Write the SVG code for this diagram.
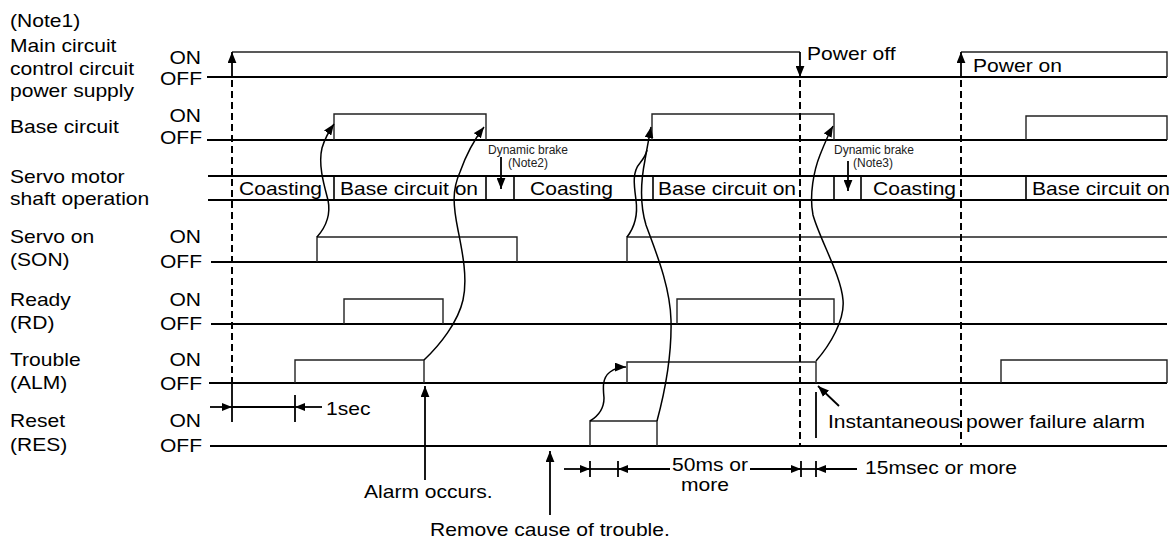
<svg xmlns="http://www.w3.org/2000/svg" width="1174" height="541" viewBox="0 0 1174 541">
<style>
.t{font-family:"Liberation Sans",Arial,sans-serif;font-size:18px;fill:#000}
.e{text-anchor:end}
.s{font-family:"Liberation Sans",Arial,sans-serif;font-size:12px;fill:#222}
.off{stroke:#000;stroke-width:2;fill:none}
.hi{stroke:#222;stroke-width:1.4;fill:none}
.dv{stroke:#000;stroke-width:1.6;fill:none}
.dash{stroke:#000;stroke-width:2;stroke-dasharray:7 4;fill:none}
.cv{stroke:#000;stroke-width:1.5;fill:none}
.ln{stroke:#000;stroke-width:1.8;fill:none}
</style>
<defs>
<marker id="ah" viewBox="0 0 10 8" refX="10" refY="4" markerWidth="11" markerHeight="9" markerUnits="userSpaceOnUse" orient="auto"><path d="M0,0 L10,4 L0,8 z" fill="#000"/></marker>
<marker id="ad" viewBox="0 0 10 8" refX="10" refY="4" markerWidth="10" markerHeight="8" markerUnits="userSpaceOnUse" orient="auto"><path d="M0,0 L10,4 L0,8 z" fill="#000"/></marker>
</defs>
<rect width="1174" height="541" fill="#fff"/>

<g id="labels">
<text class="t" transform="translate(10,27) scale(1.17,1)">(Note1)</text>
<text class="t" transform="translate(10,52) scale(1.17,1)">Main circuit</text>
<text class="t" transform="translate(10,75) scale(1.17,1)">control circuit</text>
<text class="t" transform="translate(10,97) scale(1.17,1)">power supply</text>
<text class="t" transform="translate(10,133) scale(1.17,1)">Base circuit</text>
<text class="t" transform="translate(10,183) scale(1.17,1)">Servo motor</text>
<text class="t" transform="translate(10,205) scale(1.17,1)">shaft operation</text>
<text class="t" transform="translate(10,243) scale(1.17,1)">Servo on</text>
<text class="t" transform="translate(10,266) scale(1.17,1)">(SON)</text>
<text class="t" transform="translate(10,306) scale(1.17,1)">Ready</text>
<text class="t" transform="translate(10,329) scale(1.17,1)">(RD)</text>
<text class="t" transform="translate(10,366) scale(1.17,1)">Trouble</text>
<text class="t" transform="translate(10,389) scale(1.17,1)">(ALM)</text>
<text class="t" transform="translate(10,427) scale(1.17,1)">Reset</text>
<text class="t" transform="translate(10,451) scale(1.17,1)">(RES)</text>
<text class="t e" transform="translate(201,64) scale(1.17,1)">ON</text>
<text class="t e" transform="translate(202,85) scale(1.17,1)">OFF</text>
<text class="t e" transform="translate(201,122) scale(1.17,1)">ON</text>
<text class="t e" transform="translate(202,144) scale(1.17,1)">OFF</text>
<text class="t e" transform="translate(201,243) scale(1.17,1)">ON</text>
<text class="t e" transform="translate(202,268) scale(1.17,1)">OFF</text>
<text class="t e" transform="translate(201,306) scale(1.17,1)">ON</text>
<text class="t e" transform="translate(202,330) scale(1.17,1)">OFF</text>
<text class="t e" transform="translate(201,366) scale(1.17,1)">ON</text>
<text class="t e" transform="translate(202,390) scale(1.17,1)">OFF</text>
<text class="t e" transform="translate(201,427) scale(1.17,1)">ON</text>
<text class="t e" transform="translate(202,452) scale(1.17,1)">OFF</text>
</g>

<g id="sig-power">
<line class="off" x1="207" y1="77" x2="1167" y2="77"/>
<polyline class="hi" points="232,52 800,52"/>
<polyline class="hi" points="961,52 1167,52 1167,77"/>
<text class="t" transform="translate(807,60) scale(1.17,1)">Power off</text>
<text class="t" transform="translate(973,72) scale(1.17,1)">Power on</text>
</g>

<g id="sig-base">
<line class="off" x1="207" y1="140" x2="1167" y2="140"/>
<polyline class="hi" points="334,140 334,114 486,114 486,140"/>
<polyline class="hi" points="652,140 652,114 834,114 834,140"/>
<polyline class="hi" points="1026,140 1026,116 1167,116 1167,140"/>
</g>

<g id="sig-motor">
<line class="off" x1="208" y1="176" x2="1167" y2="176"/>
<line class="off" x1="208" y1="200" x2="1167" y2="200"/>
<path class="dv" d="M334,176V200M486,176V200M514,176V200M653,176V200M834,176V200M861,176V200M1026,176V200"/>
<text class="t" transform="translate(239,195) scale(1.17,1)">Coasting</text>
<text class="t" transform="translate(340,195) scale(1.17,1)">Base circuit on</text>
<text class="t" transform="translate(530,195) scale(1.17,1)">Coasting</text>
<text class="t" transform="translate(658,195) scale(1.17,1)">Base circuit on</text>
<text class="t" transform="translate(873,195) scale(1.17,1)">Coasting</text>
<text class="t" transform="translate(1032,195) scale(1.17,1)">Base circuit on</text>
<text class="s" x="488" y="154">Dynamic brake</text>
<text class="s" x="508" y="167">(Note2)</text>
<text class="s" x="834" y="154">Dynamic brake</text>
<text class="s" x="853" y="167">(Note3)</text>
</g>

<g id="sig-son">
<line class="off" x1="211" y1="262" x2="1167" y2="262"/>
<polyline class="hi" points="317,262 317,237 517,237 517,262"/>
<polyline class="hi" points="627,262 627,237 1167,237"/>
</g>

<g id="sig-rd">
<line class="off" x1="211" y1="324" x2="1167" y2="324"/>
<polyline class="hi" points="344,324 344,299 443,299 443,324"/>
<polyline class="hi" points="677,324 677,299 834,299 834,324"/>
</g>

<g id="sig-alm">
<line class="off" x1="209" y1="383" x2="1167" y2="383"/>
<polyline class="hi" points="295,383 295,360 424,360 424,383"/>
<polyline class="hi" points="627,383 627,362 816,362 816,383"/>
<polyline class="hi" points="1001,383 1001,360 1167,360 1167,383"/>
</g>

<g id="sig-res">
<line class="off" x1="210" y1="446" x2="1167" y2="446"/>
<polyline class="hi" points="590,446 590,421 657,421 657,446"/>
</g>

<g id="connectors">
<line class="ln" x1="232" y1="77" x2="232" y2="52" marker-end="url(#ah)"/>
<line class="dash" x1="232" y1="80" x2="232" y2="384"/>
<line class="ln" x1="232" y1="384" x2="232" y2="422"/>
<line class="ln" x1="800" y1="52" x2="800" y2="77" marker-end="url(#ah)"/>
<line class="dash" x1="800" y1="80" x2="800" y2="445"/>
<line class="ln" x1="961" y1="77" x2="961" y2="52" marker-end="url(#ah)"/>
<line class="dash" x1="961" y1="80" x2="961" y2="445"/>
<line class="ln" x1="501" y1="157" x2="501" y2="189" marker-end="url(#ah)"/>
<line class="ln" x1="848" y1="161" x2="848" y2="191" marker-end="url(#ah)"/>
<path class="cv" d="M317,237 C325,228 331,215 328,200 C324,185 318,165 322,148 C325,138 329,131 334,124" marker-end="url(#ah)"/>
<path class="cv" d="M424,360 C440,345 458,322 463,300 C468,278 462,250 458,230 C453,205 452,190 460,172 C466,155 474,140 484,127" marker-end="url(#ah)"/>
<path class="cv" d="M590,421 C600,415 604,408 604,398 C603,388 602,378 610,372 C615,368 620,367 626,367" marker-end="url(#ah)"/>
<path class="cv" d="M627,237 C634,228 638,215 636,200 C634,185 632,172 640,163 C644,158 646,155 647,150"/>
<path class="cv" d="M657,421 C664,395 672,360 671,320 C670,285 655,250 646,225 C640,205 641,180 645,160 C647,148 649,138 651,127" marker-end="url(#ah)"/>
<path class="cv" d="M816,361 C830,345 845,320 843,300 C841,275 820,240 813,215 C809,195 814,170 820,155 C824,145 828,135 833,126" marker-end="url(#ah)"/>
<line class="ln" x1="425" y1="480" x2="425" y2="386" marker-end="url(#ah)"/>
<line class="ln" x1="550" y1="515" x2="550" y2="451" marker-end="url(#ah)"/>
<line class="ln" x1="839" y1="406" x2="818" y2="386" marker-end="url(#ah)"/>
<line class="ln" x1="816" y1="392" x2="816" y2="438"/>
<line class="ln" x1="210" y1="407" x2="232" y2="407" marker-end="url(#ad)"/>
<line class="ln" x1="232" y1="407" x2="295" y2="407"/>
<line class="ln" x1="295" y1="395" x2="295" y2="422"/>
<line class="ln" x1="322" y1="407" x2="295" y2="407" marker-end="url(#ad)"/>
<line class="ln" x1="564" y1="469" x2="590" y2="469" marker-end="url(#ad)"/>
<line class="ln" x1="590" y1="469" x2="618" y2="469"/>
<line class="ln" x1="590" y1="461" x2="590" y2="477"/>
<line class="ln" x1="618" y1="461" x2="618" y2="477"/>
<line class="ln" x1="670" y1="469" x2="618" y2="469" marker-end="url(#ad)"/>
<line class="ln" x1="750" y1="469" x2="801" y2="469" marker-end="url(#ad)"/>
<line class="ln" x1="801" y1="469" x2="816" y2="469"/>
<line class="ln" x1="801" y1="461" x2="801" y2="477"/>
<line class="ln" x1="816" y1="461" x2="816" y2="477"/>
<line class="ln" x1="857" y1="469" x2="816" y2="469" marker-end="url(#ad)"/>
</g>

<g id="annotations">
<text class="t" transform="translate(326,415) scale(1.17,1)">1sec</text>
<text class="t" transform="translate(364,498) scale(1.17,1)">Alarm occurs.</text>
<text class="t" transform="translate(430,536) scale(1.17,1)">Remove cause of trouble.</text>
<text class="t" transform="translate(672,471) scale(1.17,1)">50ms or</text>
<text class="t" transform="translate(681,491) scale(1.17,1)">more</text>
<text class="t" transform="translate(865,474) scale(1.17,1)">15msec or more</text>
<text class="t" transform="translate(828,428) scale(1.17,1)">Instantaneous power failure alarm</text>
</g>
</svg>
